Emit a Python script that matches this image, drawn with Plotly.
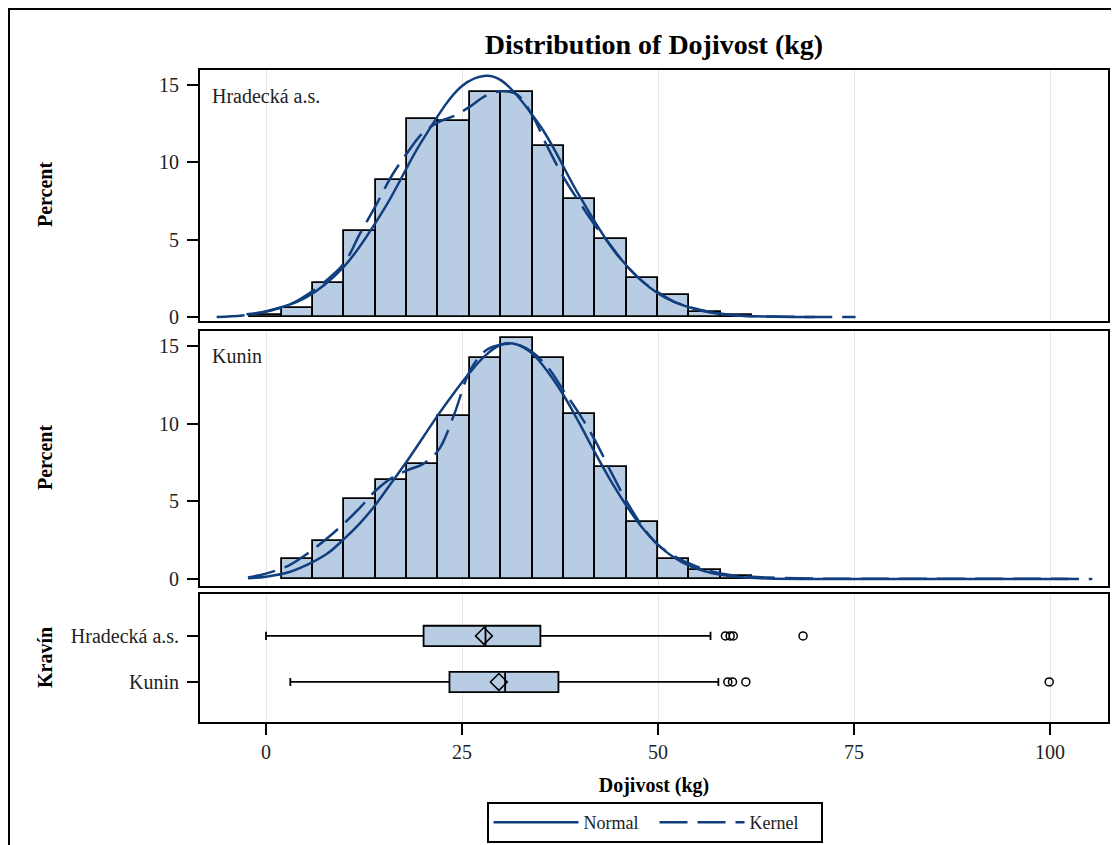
import plotly.graph_objects as go

# ---------------- data ----------------
bin_width = 4
hist_h_centers = [0, 4, 8, 12, 16, 20, 24, 28, 32, 36, 40, 44, 48, 52, 56, 60]
hist_h_percent = [0.1, 0.55, 2.2, 5.56, 8.85, 12.78, 12.67, 14.52, 14.52, 11.07, 7.63, 5.04, 2.5, 1.4, 0.35, 0.12]

hist_k_centers = [4, 8, 12, 16, 20, 24, 28, 32, 36, 40, 44, 48, 52, 56, 60]
hist_k_percent = [1.27, 2.45, 5.16, 6.39, 7.4, 10.5, 14.2, 15.5, 14.2, 10.6, 7.24, 3.64, 1.27, 0.55, 0.2]

normal_h_x = [-2.5, 0, 5, 10, 15, 20, 25, 28, 30, 35, 40, 45, 50, 55, 60, 65, 70]
normal_h_y = [0.18, 0.36, 1.23, 3.29, 6.92, 11.47, 14.94, 15.6, 15.3, 12.33, 7.81, 3.89, 1.52, 0.47, 0.11, 0.02, 0.0]

kernel_h_x = [-6.3, -3, 0, 3, 6, 8, 10, 12, 14, 16, 18, 20, 22, 24, 26, 28, 30, 32, 34, 36, 38, 40,
              42, 44, 46, 48, 50, 52, 54, 56, 58, 60, 64, 70, 75.2]
kernel_h_y = [0.0, 0.1, 0.35, 0.8, 1.7, 2.5, 3.5, 5.4, 7.2, 9.1, 10.6, 11.9, 12.6, 13.0, 13.6, 14.3, 14.6, 14.4,
              13.0, 10.9, 9.0, 7.4, 5.9, 4.6, 3.3, 2.3, 1.6, 1.0, 0.65, 0.4, 0.2, 0.1, 0.03, 0.0, 0.0]

normal_k_x = [-2.3, 0, 3, 6, 8, 10, 12, 14, 16, 18, 20, 22, 24, 26, 28, 30, 32, 34, 36, 38, 40, 42, 44,
              46, 48, 50, 52, 54, 56, 58, 60, 64, 70, 102.3]
normal_k_y = [0.05, 0.15, 0.45, 1.1, 1.7, 2.6, 3.6, 4.8, 6.2, 7.6, 9.1, 10.6, 12.0, 13.3, 14.4, 15.1, 15.1,
              14.5, 13.3, 11.8, 10.0, 8.1, 6.3, 4.7, 3.3, 2.2, 1.4, 0.85, 0.5, 0.27, 0.14, 0.03, 0.0, 0.0]

kernel_k_x = [-2.3, 0, 3, 6, 8, 10, 12, 14, 16, 18, 20, 22, 24, 26, 28, 30, 32, 34, 36, 38, 40, 42, 44,
              46, 48, 50, 52, 54, 56, 58, 60, 62, 64, 70, 80, 95, 100, 105.4]
kernel_k_y = [0.1, 0.35, 0.9, 1.9, 2.7, 3.6, 4.6, 5.7, 6.5, 7.0, 7.4, 8.3, 10.6, 13.4, 14.7, 15.1, 15.1,
              14.6, 13.6, 12.1, 10.6, 8.9, 6.9, 5.0, 3.4, 2.2, 1.5, 1.0, 0.6, 0.35, 0.2, 0.15, 0.1, 0.03,
              0.02, 0.02, 0.02, 0.0]

groups = ["Hradecká a.s.", "Kunin"]
box_min = [0.0, 3.1]
box_q1 = [20.1, 23.4]
box_median = [28.0, 30.5]
box_q3 = [35.0, 37.3]
box_max = [56.7, 57.7]
box_mean = [27.8, 29.7]
outliers_h = [58.6, 59.2, 59.6, 68.5]
outliers_k = [58.9, 59.5, 61.2, 99.9]

x_ticks = [0, 25, 50, 75, 100]
y_ticks = [0, 5, 10, 15]

# ---------------- style ----------------
FONT = "Liberation Serif"
BAR_FILL = "#b8cce4"
CURVE = "#113f7e"
DASH = "28px,10px"
PAGE_W, PAGE_H = 1119, 845
OFF = 8  # default page body margin
W, H = PAGE_W - OFF, PAGE_H - OFF
# plot-area box in page pixels
PL, PR, PT, PB = 200, 1108, 70, 722
L, R, T, B = PL - OFF, PR - OFF, PT - OFF, PB - OFF


def py(p):
    """page pixel y -> paper y"""
    return (B - (p - OFF)) / (B - T)


def px(p):
    """page pixel x -> paper x"""
    return ((p - OFF) - L) / (R - L)


fig = go.Figure()

# histograms
fig.add_trace(go.Bar(x=hist_h_centers, y=hist_h_percent, width=bin_width,
                     marker=dict(color=BAR_FILL, line=dict(color="black", width=1.8)),
                     xaxis="x", yaxis="y", showlegend=False, hoverinfo="x+y"))
fig.add_trace(go.Bar(x=hist_k_centers, y=hist_k_percent, width=bin_width,
                     marker=dict(color=BAR_FILL, line=dict(color="black", width=1.8)),
                     xaxis="x2", yaxis="y2", showlegend=False, hoverinfo="x+y"))

# curves
fig.add_trace(go.Scatter(x=normal_h_x, y=normal_h_y, mode="lines", line=dict(color=CURVE, width=2.5, shape="spline"),
                         name="Normal", legendgroup="n", xaxis="x", yaxis="y"))
fig.add_trace(go.Scatter(x=kernel_h_x, y=kernel_h_y, mode="lines",
                         line=dict(color=CURVE, width=2.5, dash=DASH, shape="spline"),
                         name="Kernel", legendgroup="k", xaxis="x", yaxis="y"))
fig.add_trace(go.Scatter(x=normal_k_x, y=normal_k_y, mode="lines", line=dict(color=CURVE, width=2.5, shape="spline"),
                         name="Normal", legendgroup="n", showlegend=False, xaxis="x2", yaxis="y2"))
fig.add_trace(go.Scatter(x=kernel_k_x, y=kernel_k_y, mode="lines",
                         line=dict(color=CURVE, width=2.5, dash=DASH, shape="spline"),
                         name="Kernel", legendgroup="k", showlegend=False, xaxis="x2", yaxis="y2"))

# box plots
for i, g in enumerate(groups):
    fig.add_trace(go.Box(y=[g], q1=[box_q1[i]], median=[box_median[i]], q3=[box_q3[i]],
                         lowerfence=[box_min[i]], upperfence=[box_max[i]], orientation="h",
                         boxpoints=False, width=0.44, whiskerwidth=0.4,
                         fillcolor=BAR_FILL, line=dict(color="black", width=1.8),
                         showlegend=False, xaxis="x3", yaxis="y3", name=g))
fig.add_trace(go.Scatter(x=box_mean, y=groups, mode="markers",
                         marker=dict(symbol="diamond-open", size=13, color="black", line=dict(width=1.5)),
                         showlegend=False, xaxis="x3", yaxis="y3", name="Mean"))
fig.add_trace(go.Scatter(x=outliers_h + outliers_k,
                         y=[groups[0]] * len(outliers_h) + [groups[1]] * len(outliers_k),
                         mode="markers", marker=dict(symbol="circle-open", size=8, color="black", line=dict(width=1.5)),
                         showlegend=False, xaxis="x3", yaxis="y3", name="Outlier"))

xrange = [(PL - 266) / 7.84, (PR - 266) / 7.84]
common_x = dict(range=xrange, showgrid=True, gridcolor="#e6e6e6", gridwidth=1, tickvals=x_ticks, zeroline=False,
                showline=True, linecolor="black", linewidth=1.8, mirror=True, automargin=False)
tickfont = dict(family=FONT, size=20, color="#222")
titlefont = dict(family=FONT, size=20, color="black", weight="bold")
common_y = dict(showgrid=False, zeroline=False, ticks="outside", ticklen=11, tickwidth=2, tickcolor="black",
                tickfont=tickfont, ticklabelstandoff=4, showline=True, linecolor="black", linewidth=1.8,
                mirror=True, automargin=False)

fig.update_layout(
    width=W, height=H,
    margin=dict(l=L, r=W - R, t=T, b=H - B, autoexpand=False),
    paper_bgcolor="white", plot_bgcolor="white",
    font=dict(family=FONT, color="black"),
    title=dict(text="<b>Distribution of Dojivost (kg)</b>", x=(L + R) / 2 / W, xanchor="center",
               y=1 - (44 - OFF) / H, yanchor="middle", font=dict(family=FONT, size=28, color="black")),
    barmode="overlay", bargap=0,
    xaxis=dict(**common_x, domain=[0, 1], anchor="y", showticklabels=False, ticks="", matches="x3"),
    xaxis2=dict(**common_x, domain=[0, 1], anchor="y2", showticklabels=False, ticks="", matches="x3"),
    xaxis3=dict(**common_x, domain=[0, 1], anchor="y3", ticks="outside", ticklen=11, tickwidth=2, tickcolor="black",
                tickfont=tickfont, title=dict(text="Dojivost (kg)", font=titlefont, standoff=16)),
    yaxis=dict(**common_y, domain=[py(321), 1.0], range=[-0.26, 15.97], tickvals=y_ticks),
    yaxis2=dict(**common_y, domain=[py(586), py(331)], range=[-0.45, 15.97], tickvals=y_ticks),
    yaxis3=dict(**common_y, domain=[0, py(594)], type="category", categoryorder="array", categoryarray=groups,
                range=[1.87, -0.91]),
    legend=dict(orientation="h", x=px(654.5), xanchor="center", y=py(802), yanchor="top",
                bordercolor="black", borderwidth=2, bgcolor="white",
                font=dict(family=FONT, size=18, color="#222"), itemwidth=85,
                entrywidth=66, traceorder="normal"),
    showlegend=True,
)

# y-axis titles (rotated)
for text, ycen in [("Percent", 195), ("Percent", 458), ("Kravín", 658)]:
    fig.add_annotation(text="<b>%s</b>" % text, xref="paper", yref="paper", x=px(45), y=py(ycen),
                       xanchor="center", yanchor="middle", textangle=-90, showarrow=False,
                       font=dict(family=FONT, size=20, color="black"))

# panel labels
fig.add_annotation(text="Hradecká a.s.", xref="paper", yref="paper", x=px(210), y=py(83), xanchor="left",
                   yanchor="top", showarrow=False, font=dict(family=FONT, size=20, color="#222"))
fig.add_annotation(text="Kunin", xref="paper", yref="paper", x=px(210), y=py(343), xanchor="left",
                   yanchor="top", showarrow=False, font=dict(family=FONT, size=20, color="#222"))

# outer frame
fig.add_shape(type="rect", xref="paper", yref="paper", x0=px(9), x1=px(1125), y0=py(860), y1=py(9),
              line=dict(color="black", width=2), fillcolor="rgba(0,0,0,0)", layer="below")

fig.write_html("out.html")
